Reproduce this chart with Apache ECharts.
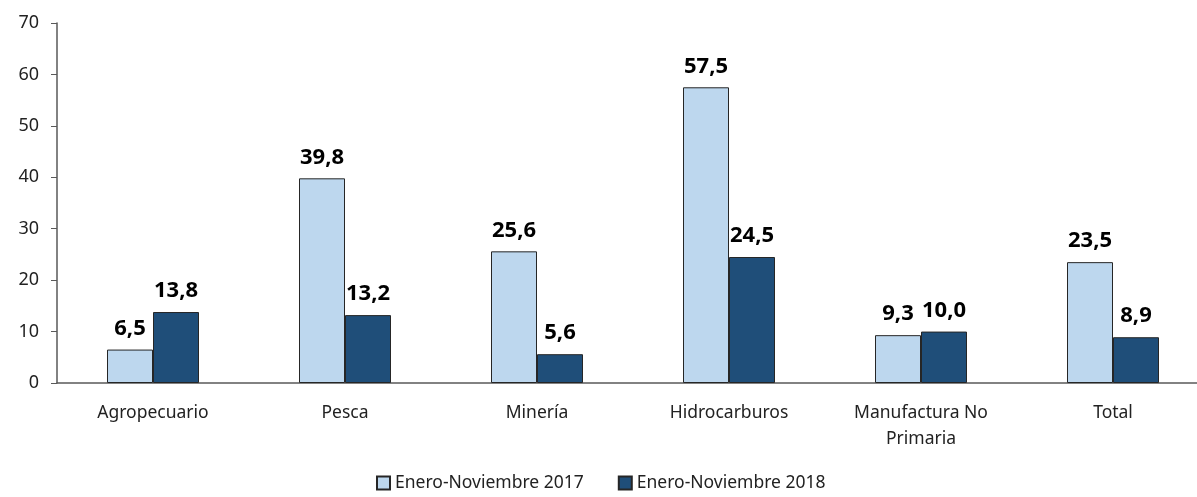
<!DOCTYPE html>
<html>
<head>
<meta charset="utf-8">
<script src="https://cdn.jsdelivr.net/npm/echarts@6/dist/echarts.min.js"></script>
<style>html,body{margin:0;padding:0;background:#fff;overflow:hidden;}#c{width:1209px;height:497px;}</style>
</head>
<body>
<div id="c"></div>
<script>
const categories = ['Agropecuario', 'Pesca', 'Minería', 'Hidrocarburos', 'Manufactura No\nPrimaria', 'Total'];
const seriesNames = ['Enero-Noviembre 2017', 'Enero-Noviembre 2018'];
const values2017 = [6.5, 39.8, 25.6, 57.5, 9.3, 23.5];
const values2018 = [13.8, 13.2, 5.6, 24.5, 10.0, 8.9];
const yTicks = { min: 0, max: 70, interval: 10 };

const FONT = 'Noto Sans';
const chart = echarts.init(document.getElementById('c'), null, { renderer: 'canvas' });
const lbl = {
  show: true, position: 'top', distance: 10,
  fontFamily: FONT, fontWeight: 'bold', fontSize: 22, color: '#000',
  formatter: p => p.value.toFixed(1).replace('.', ',')
};
chart.setOption({
  animation: false,
  textStyle: { fontFamily: FONT },
  grid: { left: 57, top: 23, right: 0, bottom: 114, containLabel: false },
  legend: {
    bottom: 0, left: 371, itemWidth: 13, itemHeight: 13, itemGap: 34,
    icon: 'rect',
    textStyle: { fontFamily: FONT, fontSize: 17.5, color: '#222' },
    data: seriesNames
  },
  xAxis: {
    type: 'category', data: categories,
    axisLine: { lineStyle: { color: '#595959', width: 1.5 } },
    axisTick: { show: false },
    axisLabel: { fontFamily: FONT, fontSize: 17.5, color: '#222', margin: 17, lineHeight: 26 }
  },
  yAxis: {
    type: 'value', min: yTicks.min, max: yTicks.max, interval: yTicks.interval,
    splitLine: { show: false },
    axisLine: { show: true, lineStyle: { color: '#595959', width: 1.5 } },
    axisTick: { show: true, inside: false, length: 6, lineStyle: { color: '#595959' } },
    axisLabel: { fontFamily: FONT, fontSize: 18, color: '#222', margin: 18 }
  },
  series: [
    { name: seriesNames[0], type: 'bar', data: values2017, barWidth: 46, barGap: '0%',
      itemStyle: { color: '#BDD7EE', borderColor: '#262626', borderWidth: 1 }, label: lbl },
    { name: seriesNames[1], type: 'bar', data: values2018, barWidth: 46, barGap: '0%',
      itemStyle: { color: '#1F4E79', borderColor: '#262626', borderWidth: 1 }, label: lbl }
  ]
});
</script>
</body>
</html>
